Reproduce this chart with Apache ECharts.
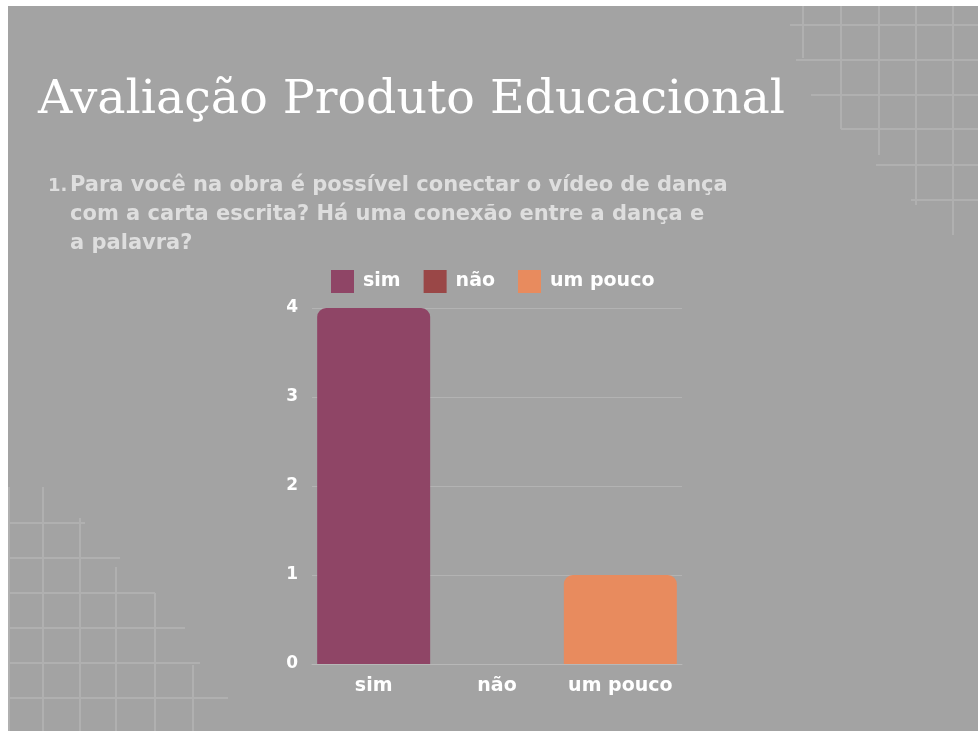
<!DOCTYPE html>
<html>
<head>
<meta charset="utf-8">
<script src="https://cdn.jsdelivr.net/npm/echarts@6/dist/echarts.min.js"></script>
<style>
html,body{margin:0;padding:0;background:#ffffff;}
#chart{position:absolute;left:0;top:0;width:978px;height:731px;}
</style>
</head>
<body>
<div id="chart"></div>
<script>
// ---- data ----
const titleText = 'Avaliação Produto Educacional';
const questionNumber = '1.';
const questionLines = [
  'Para você na obra é possível conectar o vídeo de dança',
  'com a carta escrita? Há uma conexão entre a dança e',
  'a palavra?'
];
const categories = ['sim', 'não', 'um pouco'];
const counts = [4, 0, 1];
const seriesColors = ['#8f4566', '#9a4747', '#e88b5e'];
const yTicks = [0, 1, 2, 3, 4];

// ---- decoration (background grid lines) ----
const decoColor = '#b0b0b0';
const decoSegments = [
  // top-right
  [790, 25, 978, 25], [796, 60, 978, 60], [811, 95, 978, 95], [841, 129, 978, 129],
  [876, 165, 978, 165], [911, 200, 978, 200],
  [803, 6, 803, 58], [841, 6, 841, 129], [879, 6, 879, 155], [916, 6, 916, 205], [953, 6, 953, 235],
  // bottom-left
  [8, 523, 85, 523], [8, 558, 120, 558], [8, 593, 155, 593], [8, 628, 185, 628],
  [8, 663, 200, 663], [8, 698, 228, 698],
  [9, 487, 9, 731], [43, 487, 43, 731], [80, 518, 80, 731], [116, 567, 116, 731],
  [155, 593, 155, 731], [193, 665, 193, 731]
];

const chart = echarts.init(document.getElementById('chart'), null, {renderer: 'canvas'});

const graphics = [
  {type: 'rect', left: 8, top: 6, z: -10, shape: {width: 970, height: 725}, style: {fill: '#a3a3a3'}}
];
decoSegments.forEach(s => {
  graphics.push({type: 'line', z: -5, shape: {x1: s[0], y1: s[1], x2: s[2], y2: s[3]},
    style: {stroke: decoColor, lineWidth: 2}});
});
graphics.push({type: 'text', x: 38, y: 101, style: {
  text: titleText, fill: '#ffffff', font: 'normal 47.5px "DejaVu Serif", serif',
  textVerticalAlign: 'middle'}});
graphics.push({type: 'text', x: 48, y: 186, style: {
  text: questionNumber, fill: '#dedede', font: 'bold 18px "DejaVu Sans", sans-serif',
  textVerticalAlign: 'middle'}});
graphics.push({type: 'text', x: 70, y: 171.5, style: {
  text: questionLines.join('\n'), fill: '#dedede', font: 'bold 21px "DejaVu Sans", sans-serif',
  lineHeight: 29, textVerticalAlign: 'top'}});

const series = categories.map((name, i) => ({
  name: name,
  type: 'bar',
  barWidth: 113,
  barGap: '-100%',
  data: categories.map((c, j) => (j === i ? counts[j] : '-')),
  itemStyle: {color: seriesColors[i], borderRadius: [9, 9, 0, 0]}
}));

chart.setOption({
  animation: false,
  backgroundColor: 'transparent',
  graphic: graphics,
  legend: {
    left: 331, top: 270, padding: 0,
    itemWidth: 23, itemHeight: 23, itemGap: 23,
    icon: 'rect',
    data: categories,
    textStyle: {color: '#ffffff', fontWeight: 'bold', fontSize: 19,
      fontFamily: '"DejaVu Sans", sans-serif', padding: [0, 0, 0, 4]}
  },
  grid: {left: 312, right: 296, top: 308, bottom: 67, containLabel: false},
  xAxis: {
    type: 'category', data: categories,
    axisLine: {show: true, lineStyle: {color: '#b8b8b8', width: 1}},
    axisTick: {show: false},
    axisLabel: {color: '#ffffff', fontWeight: 'bold', fontSize: 19, interval: 0,
      fontFamily: '"DejaVu Sans", sans-serif', margin: 13}
  },
  yAxis: {
    type: 'value', min: 0, max: 4, interval: 1,
    axisLine: {show: false}, axisTick: {show: false},
    splitLine: {lineStyle: {color: '#b3b3b3', width: 1}},
    axisLabel: {color: '#ffffff', fontWeight: 'bold', fontSize: 17,
      fontFamily: '"DejaVu Sans", sans-serif', margin: 14,
      formatter: v => (yTicks.indexOf(v) >= 0 ? String(v) : '')}
  },
  series: series
});
</script>
</body>
</html>
